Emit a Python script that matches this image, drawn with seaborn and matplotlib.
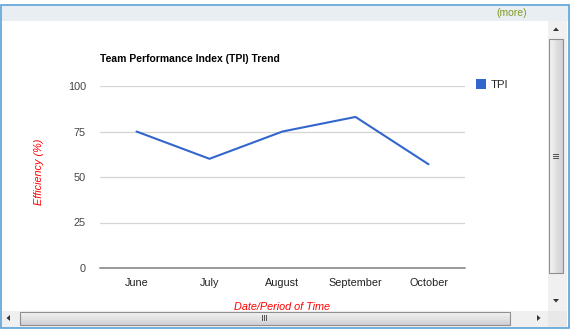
import matplotlib
matplotlib.use("Agg")
import matplotlib.pyplot as plt
from matplotlib.patches import Rectangle, Polygon
import numpy as np
import pandas as pd
import seaborn as sns

# Monthly TPI readings
months = ["June", "July", "August", "September", "October"]
tpi_values = [75, 60, 75, 83, 57]
y_ticks = [0, 25, 50, 75, 100]
series_name = "TPI"

df = pd.DataFrame({"month": months, "value": tpi_values})

sns.set_theme(style="white")
plt.rcParams["font.family"] = ["Liberation Sans", "DejaVu Sans"]

W, H = 570, 330
fig = plt.figure(figsize=(W / 100, H / 100), dpi=100)
fig.patch.set_facecolor("white")


def box(x, y, w, h, **kw):
    """Rectangle in pixel coordinates (origin top-left)."""
    r = Rectangle((x / W, 1 - (y + h) / H), w / W, h / H,
                  transform=fig.transFigure, **kw)
    fig.patches.append(r)
    return r


def tri(points, color="#333333"):
    pts = [(px / W, 1 - py / H) for px, py in points]
    fig.patches.append(Polygon(pts, closed=True, transform=fig.transFigure,
                               facecolor=color, edgecolor="none"))


def gradient(x, y, w, h, c0, c1, horizontal=True, steps=12):
    c0 = np.array(matplotlib.colors.to_rgb(c0))
    c1 = np.array(matplotlib.colors.to_rgb(c1))
    for i in range(steps):
        t = i / (steps - 1)
        col = c0 * (1 - t) + c1 * t
        if horizontal:
            box(x + w * i / steps, y, w / steps + 0.5, h, facecolor=col, edgecolor="none")
        else:
            box(x, y + h * i / steps, w, h / steps + 0.5, facecolor=col, edgecolor="none")


# Panel frame and header strip
box(0.5, 4.5, 568, 323, facecolor="white", edgecolor="#5a9fd4", linewidth=1.2)
box(1.5, 5.5, 566, 15, facecolor="#e9eef2", edgecolor="none")
fig.text(527 / W, 1 - 13 / H, "(more)", ha="right", va="center",
         fontsize=7.5, color="#7f9a25")

# Vertical scrollbar
box(548, 21, 19, 290, facecolor="#f0f0f0", edgecolor="none")
gradient(549, 39, 14, 234, "#f4f4f4", "#cfcfd4", horizontal=True)
box(549, 39, 14, 234, facecolor="none", edgecolor="#8e8f8f", linewidth=0.8)
tri([(553, 31), (559, 31), (556, 27.5)])
tri([(553, 299), (559, 299), (556, 302.5)])
for dy in (-2, 0, 2):
    box(553, 156 + dy, 6, 0.8, facecolor="#555555", edgecolor="none")

# Horizontal scrollbar
box(1.5, 311, 547, 16, facecolor="#f0f0f0", edgecolor="none")
gradient(20, 312, 490, 13, "#f4f4f4", "#cfcfd4", horizontal=False)
box(20, 312, 490, 13, facecolor="none", edgecolor="#8e8f8f", linewidth=0.8)
tri([(10, 315), (10, 321), (6.5, 318)])
tri([(537, 315), (537, 321), (540.5, 318)])
for dx in (-2, 0, 2):
    box(264 + dx, 315, 0.8, 6, facecolor="#555555", edgecolor="none")
box(548, 311, 19, 16, facecolor="#e8e8e8", edgecolor="none")

# Chart area
ax = fig.add_axes([100 / W, 1 - 268 / H, 365 / W, 182 / H])
ax.set_zorder(10)
ax.set_facecolor("none")
sns.lineplot(data=df, x="month", y="value", ax=ax, color="#3366cc",
             linewidth=1.5, sort=False, clip_on=False, label=series_name)

ax.set_xlim(-0.5, len(months) - 0.5)
ax.set_ylim(0, 100)
ax.set_yticks(y_ticks)
ax.set_yticklabels([str(v) for v in y_ticks])
for v in y_ticks[1:]:
    ax.axhline(v, color="#d4d4d4", linewidth=0.9, zorder=0)
ax.axhline(0, color="#999999", linewidth=1.4, zorder=1, clip_on=False)
for s in ax.spines.values():
    s.set_visible(False)
ax.tick_params(axis="both", length=0, labelsize=7.8, colors="#222222")
ax.tick_params(axis="y", pad=10, labelcolor="#444444")
ax.tick_params(axis="x", pad=7.5)

ax.set_xlabel("Date/Period of Time", color="red", style="italic",
              fontsize=7.8, labelpad=10)
ax.set_ylabel("Efficiency (%)", color="red", style="italic",
              fontsize=7.8, labelpad=17)
ax.yaxis.label.set_y(0.53)
ax.set_title("Team Performance Index (TPI) Trend", loc="left",
             fontsize=7.5, fontweight="bold", color="black", pad=17.5)

leg = ax.legend(loc="upper left", bbox_to_anchor=(1.015, 1.06), frameon=False,
                fontsize=8.2, handlelength=0.9, handleheight=0.9,
                handletextpad=0.5, borderaxespad=0)
for h in leg.legend_handles:
    h.set_visible(False)
box(476, 79, 10, 10, facecolor="#3366cc", edgecolor="none")

fig.savefig("out.png", dpi=100)
